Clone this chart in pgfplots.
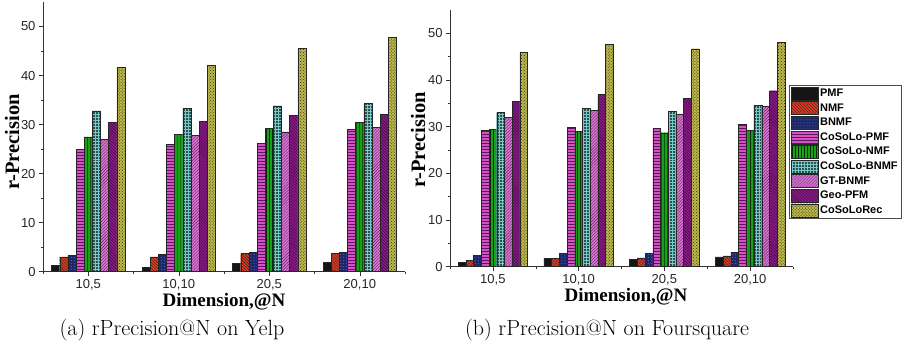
\documentclass[border=0pt]{standalone}
\usepackage{pgfplots}
\pgfplotsset{compat=1.18}
\usepackage{pgfplotstable}
\usepackage{fontspec}
\usetikzlibrary{patterns}
\newfontfamily\arial{Liberation Sans}
\newfontfamily\tnr{Liberation Serif}

\definecolor{pmfc}{HTML}{151515}
\definecolor{nmfc}{HTML}{E03A22}
\definecolor{bnmfc}{HTML}{1E2868}
\definecolor{bnmfd}{HTML}{5878E8}
\definecolor{cpmfc}{HTML}{D850C8}
\definecolor{cpmfd}{HTML}{5A1A5A}
\definecolor{cnmfc}{HTML}{18A018}
\definecolor{cnmfd}{HTML}{0A2A0A}
\definecolor{cbnmfc}{HTML}{2A5050}
\definecolor{cbnmfd}{HTML}{78C8C8}
\definecolor{gtc}{HTML}{D878D0}
\definecolor{gtd}{HTML}{6A206A}
\definecolor{geoc}{HTML}{8A1A88}
\definecolor{geod}{HTML}{3A0A3A}
\definecolor{recc}{HTML}{BCB84C}
\definecolor{recd}{HTML}{2E2E10}

\pgfplotstableread{
c PMF NMF BNMF CPMF CNMF CBNMF GT Geo Rec
0 1.3 3.0 3.4 25.0 27.5 32.8 27.0 30.5 41.7
1 0.9 3.0 3.5 26.0 28.0 33.3 27.8 30.7 42.1
2 1.7 3.7 3.9 26.2 29.2 33.8 28.5 31.9 45.6
3 1.9 3.7 3.9 29.0 30.5 34.3 29.4 32.1 47.8
}\yelp

\pgfplotstableread{
c PMF NMF BNMF CPMF CNMF CBNMF GT Geo Rec
0 1.0 1.4 2.5 29.2 29.4 33.0 32.0 35.4 45.9
1 1.85 1.85 2.9 29.9 29.0 34.0 33.5 36.9 47.7
2 1.6 1.9 2.9 29.6 28.7 33.3 32.6 36.0 46.7
3 2.1 2.3 3.1 30.5 29.2 34.5 34.3 37.7 48.0
}\foursq

\pgfplotsset{
  barbase/.style={draw=black!85, line width=0.4bp},
  s1/.style={barbase, fill=pmfc},
  s2/.style={barbase, fill=nmfc, postaction={pattern=north west lines, pattern color=black!85}},
  s3/.style={barbase, fill=bnmfc, postaction={pattern=dots, pattern color=bnmfd}},
  s4/.style={barbase, fill=cpmfc, postaction={pattern=horizontal lines, pattern color=cpmfd}},
  s5/.style={barbase, fill=cnmfc, postaction={pattern=vertical lines, pattern color=cnmfd}},
  s6/.style={barbase, fill=cbnmfc, postaction={pattern=grid, pattern color=cbnmfd}},
  s7/.style={barbase, fill=gtc, postaction={pattern=north east lines, pattern color=gtd}},
  s8/.style={barbase, fill=geoc, postaction={pattern=north west lines, pattern color=geod}},
  s9/.style={barbase, fill=recc, postaction={pattern=crosshatch dots, pattern color=recd}},
  myaxis/.style={
    scale only axis,
    ybar=0pt, bar width=0.09,
    xmin=-0.5, xmax=3.5, ymin=0, ymax=55,
    axis x line*=bottom, axis y line*=left,
    xtick={0,1,2,3},
    xticklabels={{10,5},{10,10},{20,5},{20,10}},
    minor xtick={-0.5,0.5,1.5,2.5,3.5},
    ytick={0,10,20,30,40,50},
    minor ytick={5,15,25,35,45},
    tick align=outside,
    major tick length=4bp, minor tick length=2.5bp,
    tick style={black!80, line width=0.5bp},
    axis line style={black!80, line width=0.6bp},
    ticklabel style={font=\arial\fontsize{13bp}{13bp}\selectfont, text=black!85},
    /pgf/number format/assume math mode=true,
    xlabel={Dimension,@N}, ylabel={r-Precision},
    xlabel style={font=\tnr\bfseries\fontsize{19bp}{19bp}\selectfont, anchor=center},
    ylabel style={font=\tnr\bfseries\fontsize{20.5bp}{20.5bp}\selectfont, anchor=center, rotate=0},
    legend image code/.code={\draw[##1] (0bp,-6.5bp) rectangle (27bp,6.5bp);},
  }
}

\begin{document}
\begin{tikzpicture}
\path[use as bounding box] (0,0) rectangle (910bp,347bp);

\begin{axis}[myaxis,
  width=362bp, height=269.7bp,
  at={(43bp,75.3bp)}, anchor=south west,
  xlabel style={at={(axis description cs:0.5,-0.110)}},
  ylabel style={at={(axis description cs:-0.0856,0.481)}},
]
\addplot[s1] table[x=c,y=PMF] \yelp;
\addplot[s2] table[x=c,y=NMF] \yelp;
\addplot[s3] table[x=c,y=BNMF] \yelp;
\addplot[s4] table[x=c,y=CPMF] \yelp;
\addplot[s5] table[x=c,y=CNMF] \yelp;
\addplot[s6] table[x=c,y=CBNMF] \yelp;
\addplot[s7] table[x=c,y=GT] \yelp;
\addplot[s8] table[x=c,y=Geo] \yelp;
\addplot[s9] table[x=c,y=Rec] \yelp;
\end{axis}

\begin{axis}[myaxis,
  width=343bp, height=256.7bp,
  at={(450bp,80.3bp)}, anchor=south west,
  xlabel style={at={(axis description cs:0.513,-0.116)}},
  ylabel style={at={(axis description cs:-0.0933,0.494)}},
  legend style={at={(axis description cs:0.988,0.708)}, anchor=north west,
    draw=black!70, line width=0.6bp,
    font=\arial\bfseries\fontsize{11bp}{11bp}\selectfont,
    inner xsep=1.5bp, inner ysep=1bp, row sep=0bp,
    nodes={text height=8bp, text depth=2bp, inner ysep=2.3bp, inner xsep=2bp}},
  legend cell align=left,
]
\addplot[s1] table[x=c,y=PMF] \foursq;
\addplot[s2] table[x=c,y=NMF] \foursq;
\addplot[s3] table[x=c,y=BNMF] \foursq;
\addplot[s4] table[x=c,y=CPMF] \foursq;
\addplot[s5] table[x=c,y=CNMF] \foursq;
\addplot[s6] table[x=c,y=CBNMF] \foursq;
\addplot[s7] table[x=c,y=GT] \foursq;
\addplot[s8] table[x=c,y=Geo] \foursq;
\addplot[s9] table[x=c,y=Rec] \foursq;
\legend{PMF,NMF,BNMF,CoSoLo-PMF,CoSoLo-NMF,CoSoLo-BNMF,GT-BNMF,Geo-PFM,CoSoLoRec}
\end{axis}

\node[font=\fontsize{22bp}{26bp}\selectfont] at (172bp,17bp) {(a) rPrecision@N on Yelp};
\node[font=\fontsize{22bp}{26bp}\selectfont] at (607bp,17bp) {(b) rPrecision@N on Foursquare};
\end{tikzpicture}
\end{document}
